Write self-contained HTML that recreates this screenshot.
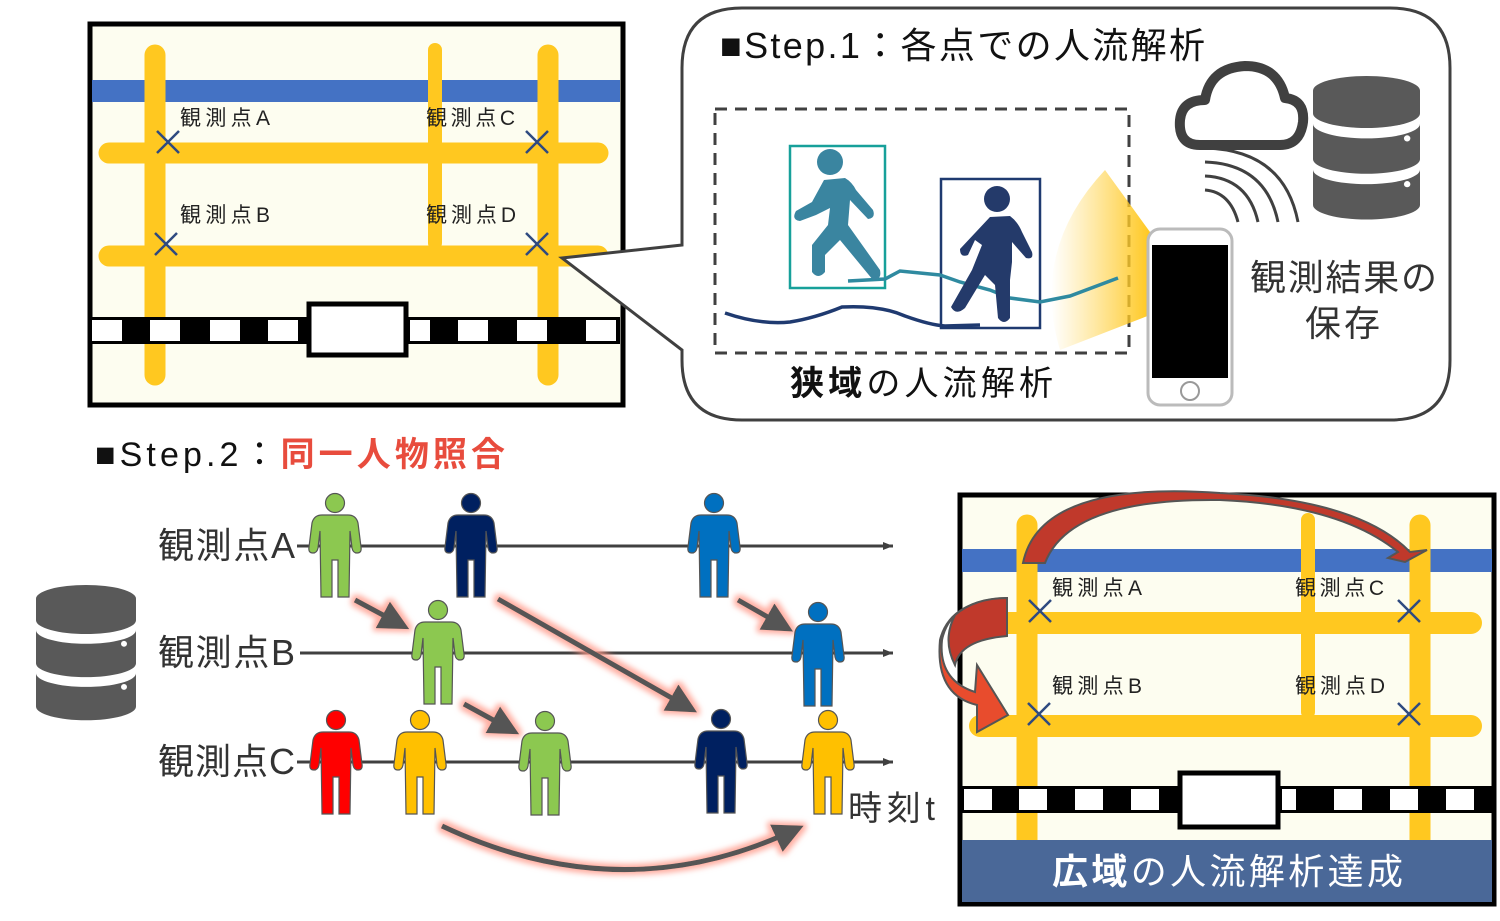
<!DOCTYPE html>
<html><head><meta charset="utf-8"><style>
html,body{margin:0;padding:0;background:#fff;}
svg{display:block;font-family:"Liberation Sans","Noto Sans CJK JP",sans-serif;}
</style></head><body>
<svg width="1500" height="921" viewBox="0 0 1500 921" xmlns="http://www.w3.org/2000/svg">
<defs>
<g id="p"><circle cx="0" cy="9" r="9.5" stroke="#555" stroke-width="1.2"/>
<path d="M-13,21 L13,21 Q21,21 23,29 L26,53 Q27,59 22,59 Q18,59 17,54 L15,37 L14,103 L3,103 L3,66 L-3,66 L-3,103 L-14,103 L-15,37 L-17,54 Q-18,59 -22,59 Q-27,59 -26,53 L-23,29 Q-21,21 -13,21 Z" stroke="#555" stroke-width="1.2"/></g>
<g id="db" fill="#595959">
<path d="M0,14 A50,14 0 0 1 100,14 L100,36 A50,14 0 0 1 0,36 Z"/>
<path d="M0,46 A50,14 0 0 0 100,46 L100,80 A50,14 0 0 1 0,80 Z"/>
<path d="M0,90 A50,14 0 0 0 100,90 L100,124 A50,14 0 0 1 0,124 Z"/>
<circle cx="88" cy="60" r="3" fill="#fff"/><circle cx="88" cy="104" r="3" fill="#fff"/>
</g>
<filter id="gl" x="-20%" y="-20%" width="140%" height="140%"><feMorphology operator="dilate" radius="3" in="SourceAlpha" result="d"/><feGaussianBlur in="d" stdDeviation="3" result="b"/><feFlood flood-color="#ff9a8a" flood-opacity="0.8"/><feComposite in2="b" operator="in" result="c"/><feMerge><feMergeNode in="c"/><feMergeNode in="SourceGraphic"/></feMerge></filter>
<marker id="ah" markerWidth="6" markerHeight="6" refX="3" refY="3" orient="auto" markerUnits="strokeWidth"><path d="M0,0 L6,3 L0,6 Z" fill="#555"/></marker>
<marker id="at" markerWidth="10" markerHeight="8" refX="10" refY="4" orient="auto" markerUnits="userSpaceOnUse"><path d="M0,0 L10,4 L0,8 Z" fill="#404040"/></marker>
<linearGradient id="yg" x1="0" x2="1"><stop offset="0" stop-color="#ffd040" stop-opacity="0"/><stop offset="1" stop-color="#ffc820"/></linearGradient>
</defs>

<!-- left map -->
<rect x="90" y="24" width="533" height="381" fill="#fdfdf0" stroke="#000" stroke-width="5"/>
<rect x="92" y="80" width="528" height="22" fill="#4472c4"/>
<g stroke="#ffc820" stroke-linecap="round">
<line x1="155" y1="55" x2="155" y2="375" stroke-width="21"/>
<line x1="435" y1="50" x2="435" y2="243" stroke-width="14"/>
<line x1="548" y1="55" x2="548" y2="375" stroke-width="21"/>
<line x1="109" y1="153" x2="598" y2="153" stroke-width="21"/>
<line x1="109" y1="256" x2="598" y2="256" stroke-width="21"/>
</g>
<rect x="92" y="317" width="528" height="27" fill="#000"/>
<g fill="#fff"><rect x="92" y="320" width="30" height="21"/><rect x="150" y="320" width="30" height="21"/><rect x="210" y="320" width="30" height="21"/><rect x="268" y="320" width="30" height="21"/><rect x="410" y="320" width="20" height="21"/><rect x="458" y="320" width="30" height="21"/><rect x="517" y="320" width="30" height="21"/><rect x="586" y="320" width="30" height="21"/></g>
<rect x="309" y="304" width="97" height="51" fill="#fff" stroke="#000" stroke-width="5"/>
<g stroke="#2f4a80" stroke-width="2.5"><path d="M157,131 l22,22 M179,131 l-22,22 M526,131 l22,22 M548,131 l-22,22 M155,233 l22,22 M177,233 l-22,22 M526,233 l22,22 M548,233 l-22,22"/></g>
<g font-size="21" fill="#222"><text x="180" y="125" textLength="90">観測点A</text><text x="426" y="125" textLength="89">観測点C</text><text x="180" y="222" textLength="90">観測点B</text><text x="426" y="222" textLength="90">観測点D</text></g>

<!-- bubble -->
<path d="M742,8 L1390,8 Q1450,8 1450,68 L1450,360 Q1450,420 1390,420 L742,420 Q682,420 682,360 L682,350 L562,258 L682,245 L682,68 Q682,8 742,8 Z" fill="#fff" stroke="#404040" stroke-width="3"/>
<text x="720" y="58" font-size="36" fill="#111" textLength="485">■Step.1：各点での人流解析</text>
<rect x="715" y="109" width="414" height="244" fill="none" stroke="#404040" stroke-width="3" stroke-dasharray="12,8"/>
<path d="M1105,170 L1150,232 L1150,315 L1060,350 Q1030,250 1105,170 Z" fill="url(#yg)"/>
<rect x="790" y="146" width="95" height="142" fill="none" stroke="#17a09a" stroke-width="2.5"/>
<rect x="941" y="179" width="99" height="149" fill="none" stroke="#1f3a70" stroke-width="2.5"/>
<path d="M848,281 L885,279 L900,271 L940,275 L960,282 L990,290 L1010,298 L1040,302 L1070,296 L1118,278" fill="none" stroke="#2f8aa0" stroke-width="3.5"/>
<path d="M725,313 Q760,325 790,322 Q815,318 842,307 Q880,305 905,316 Q930,325 945,326 L980,325" fill="none" stroke="#1f3a70" stroke-width="3.5"/>
<g fill="#3a85a0"><circle cx="830" cy="162" r="13"/><path d="M824,180 L845,178 Q852,182 856,190 L873,210 Q876,218 868,219 L850,200 L848,225 L880,270 Q882,280 873,280 L840,240 L825,255 L825,272 Q818,280 812,272 L812,245 L828,225 L830,208 L816,215 L800,221 Q791,220 796,211 L812,202 Z"/></g>
<g fill="#243a6a"><circle cx="997" cy="199" r="13"/><path d="M990,217 L1010,216 Q1018,222 1022,232 L1032,252 Q1034,260 1026,258 L1012,242 L1012,262 L1010,280 L1010,318 Q1004,326 998,318 L995,285 L985,275 L965,308 Q956,316 951,307 L972,270 L982,245 L975,240 L968,255 Q960,258 960,249 Z"/></g>
<text x="790" y="395" font-size="34" fill="#111" textLength="263"><tspan font-weight="bold">狭域</tspan>の人流解析</text>
<path d="M1200,145 Q1178,145 1180,120 Q1182,100 1205,100 Q1210,68 1245,66 Q1278,66 1285,98 Q1305,100 1303,122 Q1300,145 1280,145 Z" fill="none" stroke="#404040" stroke-width="10" stroke-linejoin="round"/>
<use href="#db" transform="translate(1313,76) scale(1.07,1.04)"/>
<g fill="none" stroke="#404040" stroke-width="3"><path d="M1205,190 Q1230,192 1238,222"/><path d="M1205,176 Q1248,178 1258,222"/><path d="M1205,162 Q1266,164 1278,222"/><path d="M1205,148 Q1284,150 1298,222"/></g>
<rect x="1148" y="229" width="84" height="176" rx="12" fill="#fff" stroke="#bbb" stroke-width="3"/>
<rect x="1152" y="245" width="76" height="133" fill="#000"/>
<circle cx="1190" cy="391" r="9" fill="none" stroke="#999" stroke-width="2"/>
<g font-size="36" fill="#333"><text x="1250" y="290" textLength="187">観測結果の</text><text x="1305" y="336" textLength="75">保存</text></g>

<!-- step 2 -->
<text x="95" y="466" font-size="34" fill="#111" textLength="410">■Step.2：<tspan fill="#e84c3d" font-weight="bold">同一人物照合</tspan></text>
<use href="#db" transform="translate(36,585) scale(1,0.98)"/>
<g stroke="#404040" stroke-width="3"><line x1="297" y1="546" x2="893" y2="546" marker-end="url(#at)"/><line x1="300" y1="653" x2="893" y2="653" marker-end="url(#at)"/><line x1="297" y1="762" x2="893" y2="762" marker-end="url(#at)"/></g>
<g font-size="36" fill="#333"><text x="158" y="558" textLength="137">観測点A</text><text x="158" y="665" textLength="137">観測点B</text><text x="158" y="774" textLength="137">観測点C</text><text x="848" y="820" font-size="34" textLength="87">時刻t</text></g>
<g filter="url(#gl)" fill="none" stroke="#555" stroke-width="5">
<line x1="355" y1="600" x2="396" y2="622" marker-end="url(#ah)"/>
<line x1="498" y1="599" x2="684" y2="705" marker-end="url(#ah)"/>
<line x1="738" y1="600" x2="780" y2="624" marker-end="url(#ah)"/>
<line x1="464" y1="704" x2="506" y2="727" marker-end="url(#ah)"/>
<path d="M442,826 Q620,910 790,832" marker-end="url(#ah)"/>
</g>
<use href="#p" x="335" y="494" fill="#8cc850"/>
<use href="#p" x="471" y="494" fill="#002060"/>
<use href="#p" x="714" y="494" fill="#0070c0"/>
<use href="#p" x="438" y="601" fill="#8cc850"/>
<use href="#p" x="818" y="603" fill="#0070c0"/>
<use href="#p" x="336" y="711" fill="#ff0000"/>
<use href="#p" x="420" y="711" fill="#ffc000"/>
<use href="#p" x="545" y="712" fill="#8cc850"/>
<use href="#p" x="721" y="710" fill="#002060"/>
<use href="#p" x="828" y="711" fill="#ffc000"/>

<!-- right map -->
<rect x="960" y="495" width="534" height="409" fill="#fdfdf0" stroke="#000" stroke-width="5"/>
<rect x="962" y="549" width="530" height="23" fill="#4472c4"/>
<g stroke="#ffc820" stroke-linecap="round">
<line x1="1027" y1="525" x2="1027" y2="845" stroke-width="21"/>
<line x1="1308" y1="520" x2="1308" y2="712" stroke-width="14"/>
<line x1="1420" y1="525" x2="1420" y2="845" stroke-width="21"/>
<line x1="980" y1="623" x2="1471" y2="623" stroke-width="22"/>
<line x1="980" y1="726" x2="1471" y2="726" stroke-width="22"/>
</g>
<rect x="962" y="786" width="530" height="27" fill="#000"/>
<g fill="#fff"><rect x="964" y="789" width="28" height="21"/><rect x="1019" y="789" width="28" height="21"/><rect x="1075" y="789" width="28" height="21"/><rect x="1131" y="789" width="28" height="21"/><rect x="1282" y="789" width="14" height="21"/><rect x="1334" y="789" width="28" height="21"/><rect x="1390" y="789" width="28" height="21"/><rect x="1446" y="789" width="28" height="21"/></g>
<rect x="1180" y="773" width="98" height="54" fill="#fff" stroke="#000" stroke-width="5"/>
<rect x="962" y="840" width="530" height="62" fill="#4a6898"/>
<text x="1052" y="884" font-size="36" fill="#fff" textLength="351"><tspan font-weight="bold">広域</tspan>の人流解析達成</text>
<g stroke="#2f4a80" stroke-width="2.5"><path d="M1029,600 l22,22 M1051,600 l-22,22 M1398,600 l22,22 M1420,600 l-22,22 M1028,703 l22,22 M1050,703 l-22,22 M1398,703 l22,22 M1420,703 l-22,22"/></g>
<g font-size="21" fill="#222"><text x="1052" y="595" textLength="90">観測点A</text><text x="1295" y="595" textLength="89">観測点C</text><text x="1052" y="693" textLength="90">観測点B</text><text x="1295" y="693" textLength="90">観測点D</text></g>
<path d="M1023,563 Q1040,480 1220,493 Q1360,500 1410,552 L1427,550 L1405,562 L1388,558 L1398,552 Q1340,505 1220,500 Q1070,498 1045,563 Z" fill="#c0392b" stroke="#555" stroke-width="2"/>
<path d="M1007,598 Q950,600 942,640 Q938,680 975,692 L977,665 L1008,715 L977,732 L977,705 Q935,695 940,640 Q950,600 1008,598 Z" fill="#e84c2d" stroke="#555" stroke-width="2"/>
<path d="M1007,598 L1007,636 Q960,640 955,665 Q942,640 955,615 Q975,598 1007,598 Z" fill="#c0392b" stroke="#555" stroke-width="2"/>
</svg>
</body></html>
